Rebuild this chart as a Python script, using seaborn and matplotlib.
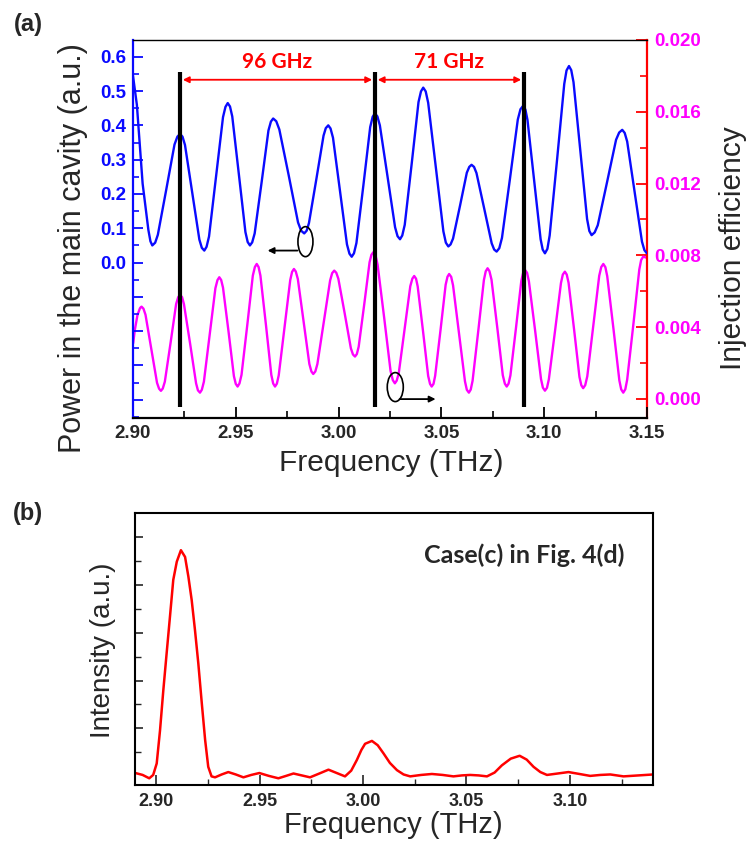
import matplotlib
matplotlib.use("Agg")
import matplotlib.pyplot as plt
from matplotlib.patches import Ellipse
from matplotlib.ticker import FixedLocator, FixedFormatter, MultipleLocator, FormatStrFormatter
import seaborn as sns

# ---------------- data ----------------
blue_freq = [
    2.9000, 2.9019, 2.9047, 2.9075, 2.9085,
    2.9094, 2.9108, 2.9121, 2.9162, 2.9202, 2.9216,
    2.9229, 2.9241, 2.9253, 2.9288, 2.9323, 2.9335,
    2.9347, 2.9358, 2.9370, 2.9404, 2.9438, 2.9450,
    2.9461, 2.9472, 2.9483, 2.9515, 2.9547, 2.9558,
    2.9569, 2.9580, 2.9592, 2.9626, 2.9659, 2.9671,
    2.9682, 2.9697, 2.9712, 2.9758, 2.9803, 2.9818,
    2.9833, 2.9845, 2.9856, 2.9892, 2.9927, 2.9938,
    2.9950, 2.9961, 2.9973, 3.0007, 3.0041, 3.0053,
    3.0064, 3.0075, 3.0087, 3.0121, 3.0154, 3.0166,
    3.0177, 3.0189, 3.0201, 3.0238, 3.0275, 3.0287,
    3.0299, 3.0310, 3.0322, 3.0356, 3.0389, 3.0401,
    3.0412, 3.0424, 3.0436, 3.0473, 3.0510, 3.0522,
    3.0534, 3.0545, 3.0557, 3.0591, 3.0624, 3.0636,
    3.0647, 3.0659, 3.0671, 3.0708, 3.0745, 3.0757,
    3.0769, 3.0782, 3.0795, 3.0834, 3.0872, 3.0885,
    3.0898, 3.0909, 3.0919, 3.0951, 3.0983, 3.0993,
    3.1004, 3.1016, 3.1027, 3.1063, 3.1098, 3.1109,
    3.1121, 3.1132, 3.1143, 3.1176, 3.1209, 3.1220,
    3.1231, 3.1246, 3.1261, 3.1306, 3.1350, 3.1365,
    3.1380, 3.1392, 3.1404, 3.1440, 3.1476, 3.1488,
    3.1500]
blue_power = [
    0.545, 0.460, 0.230, 0.095, 0.062,
    0.050, 0.058, 0.081, 0.213, 0.344, 0.367,
    0.375, 0.367, 0.343, 0.205, 0.067, 0.043,
    0.035, 0.046, 0.076, 0.250, 0.424, 0.454,
    0.465, 0.455, 0.426, 0.258, 0.089, 0.060,
    0.050, 0.059, 0.085, 0.235, 0.385, 0.411,
    0.420, 0.412, 0.388, 0.253, 0.117, 0.093,
    0.085, 0.093, 0.115, 0.243, 0.370, 0.392,
    0.400, 0.391, 0.364, 0.209, 0.053, 0.026,
    0.017, 0.027, 0.057, 0.226, 0.395, 0.425,
    0.435, 0.426, 0.400, 0.252, 0.103, 0.077,
    0.068, 0.079, 0.110, 0.289, 0.468, 0.499,
    0.510, 0.499, 0.466, 0.279, 0.091, 0.058,
    0.047, 0.053, 0.070, 0.166, 0.262, 0.279,
    0.285, 0.279, 0.261, 0.159, 0.056, 0.038,
    0.032, 0.042, 0.072, 0.245, 0.417, 0.447,
    0.457, 0.446, 0.416, 0.242, 0.068, 0.038,
    0.027, 0.040, 0.079, 0.300, 0.521, 0.560,
    0.573, 0.561, 0.526, 0.327, 0.127, 0.092,
    0.080, 0.088, 0.109, 0.234, 0.358, 0.379,
    0.387, 0.378, 0.353, 0.207, 0.061, 0.036,
    0.027]

pink_freq = [
    2.9001, 2.9009, 2.9022, 2.9034, 2.9038,
    2.9042, 2.9051, 2.9061, 2.9089, 2.9117, 2.9127,
    2.9136, 2.9145, 2.9155, 2.9183, 2.9210, 2.9220,
    2.9229, 2.9239, 2.9248, 2.9278, 2.9307, 2.9316,
    2.9326, 2.9335, 2.9345, 2.9373, 2.9401, 2.9411,
    2.9420, 2.9429, 2.9438, 2.9465, 2.9491, 2.9500,
    2.9509, 2.9518, 2.9528, 2.9556, 2.9583, 2.9593,
    2.9602, 2.9611, 2.9620, 2.9647, 2.9673, 2.9682,
    2.9691, 2.9700, 2.9709, 2.9737, 2.9765, 2.9774,
    2.9783, 2.9792, 2.9802, 2.9830, 2.9858, 2.9868,
    2.9877, 2.9887, 2.9897, 2.9928, 2.9959, 2.9969,
    2.9979, 2.9989, 2.9999, 3.0030, 3.0060, 3.0070,
    3.0080, 3.0089, 3.0098, 3.0125, 3.0151, 3.0160,
    3.0169, 3.0180, 3.0190, 3.0222, 3.0253, 3.0264,
    3.0274, 3.0283, 3.0293, 3.0321, 3.0349, 3.0359,
    3.0368, 3.0377, 3.0385, 3.0411, 3.0436, 3.0445,
    3.0453, 3.0462, 3.0470, 3.0496, 3.0521, 3.0530,
    3.0538, 3.0548, 3.0557, 3.0586, 3.0615, 3.0624,
    3.0634, 3.0643, 3.0652, 3.0680, 3.0707, 3.0716,
    3.0725, 3.0734, 3.0744, 3.0772, 3.0799, 3.0809,
    3.0818, 3.0827, 3.0836, 3.0863, 3.0889, 3.0898,
    3.0907, 3.0917, 3.0926, 3.0956, 3.0985, 3.0994,
    3.1004, 3.1014, 3.1023, 3.1053, 3.1082, 3.1091,
    3.1101, 3.1110, 3.1119, 3.1146, 3.1172, 3.1181,
    3.1190, 3.1200, 3.1210, 3.1239, 3.1268, 3.1278,
    3.1288, 3.1298, 3.1307, 3.1337, 3.1366, 3.1375,
    3.1385, 3.1395, 3.1404, 3.1434, 3.1463, 3.1472,
    3.1482, 3.1500]
pink_eff = [
    0.00310, 0.00384, 0.00468, 0.00505, 0.00511,
    0.00514, 0.00503, 0.00469, 0.00280, 0.00090, 0.00057,
    0.00045, 0.00058, 0.00096, 0.00313, 0.00529, 0.00567,
    0.00580, 0.00567, 0.00528, 0.00308, 0.00087, 0.00048,
    0.00035, 0.00051, 0.00096, 0.00357, 0.00617, 0.00662,
    0.00678, 0.00663, 0.00620, 0.00374, 0.00127, 0.00084,
    0.00069, 0.00086, 0.00134, 0.00411, 0.00687, 0.00735,
    0.00752, 0.00735, 0.00687, 0.00411, 0.00134, 0.00086,
    0.00069, 0.00085, 0.00131, 0.00397, 0.00662, 0.00708,
    0.00724, 0.00710, 0.00668, 0.00432, 0.00195, 0.00153,
    0.00139, 0.00153, 0.00194, 0.00427, 0.00660, 0.00701,
    0.00715, 0.00703, 0.00670, 0.00476, 0.00282, 0.00248,
    0.00236, 0.00250, 0.00291, 0.00527, 0.00762, 0.00803,
    0.00817, 0.00799, 0.00748, 0.00452, 0.00156, 0.00105,
    0.00087, 0.00102, 0.00144, 0.00386, 0.00628, 0.00670,
    0.00685, 0.00670, 0.00627, 0.00377, 0.00128, 0.00084,
    0.00069, 0.00084, 0.00129, 0.00383, 0.00636, 0.00681,
    0.00696, 0.00680, 0.00633, 0.00366, 0.00098, 0.00051,
    0.00035, 0.00052, 0.00101, 0.00382, 0.00662, 0.00711,
    0.00728, 0.00712, 0.00665, 0.00399, 0.00132, 0.00085,
    0.00069, 0.00085, 0.00131, 0.00394, 0.00657, 0.00703,
    0.00719, 0.00703, 0.00655, 0.00383, 0.00110, 0.00063,
    0.00046, 0.00062, 0.00109, 0.00378, 0.00646, 0.00693,
    0.00709, 0.00693, 0.00647, 0.00385, 0.00122, 0.00076,
    0.00060, 0.00077, 0.00126, 0.00406, 0.00686, 0.00735,
    0.00752, 0.00734, 0.00684, 0.00394, 0.00103, 0.00053,
    0.00035, 0.00054, 0.00107, 0.00414, 0.00721, 0.00774,
    0.00793, 0.00786]

spec_freq = [2.8900, 2.8935, 2.8967, 2.8986, 2.9003, 2.9019, 2.9035, 2.9051, 2.9067,
             2.9083, 2.9100, 2.9120, 2.9140, 2.9156, 2.9172, 2.9188, 2.9204, 2.9221,
             2.9237, 2.9252, 2.9268, 2.9285, 2.9317, 2.9349, 2.9385, 2.9422, 2.9460,
             2.9499, 2.9545, 2.9591, 2.9628, 2.9664, 2.9704, 2.9744, 2.9789, 2.9833,
             2.9873, 2.9913, 2.9943, 2.9970, 2.9992, 3.0010, 3.0043, 3.0071, 3.0099,
             3.0130, 3.0164, 3.0196, 3.0228, 3.0281, 3.0333, 3.0385, 3.0437, 3.0478,
             3.0518, 3.0559, 3.0599, 3.0636, 3.0671, 3.0714, 3.0757, 3.0791, 3.0824,
             3.0857, 3.0889, 3.0941, 3.0993, 3.1046, 3.1098, 3.1147, 3.1195, 3.1227,
             3.1259, 3.1331, 3.1403]
spec_int = [0.07, 0.03, -0.04, 0.03, 0.27, 0.96, 1.80, 2.57, 3.33,
            4.10, 4.48, 4.72, 4.58, 4.17, 3.68, 3.05, 2.36, 1.52,
            0.76, 0.20, 0.00, -0.02, 0.04, 0.09, 0.04, -0.02, 0.03,
            0.07, 0.01, -0.04, 0.01, 0.06, 0.02, -0.02, 0.06, 0.14,
            0.07, 0.00, 0.12, 0.34, 0.55, 0.68, 0.74, 0.65, 0.48,
            0.28, 0.13, 0.04, 0.00, 0.03, 0.05, 0.03, 0.00, 0.02,
            0.03, 0.02, 0.00, 0.08, 0.23, 0.37, 0.43, 0.35, 0.20,
            0.09, 0.03, 0.06, 0.09, 0.05, 0.01, 0.03, 0.04, 0.02,
            0.00, 0.02, 0.04]

marker_freqs = [2.9229, 3.0177, 3.0902]
span_labels = ["96 GHz", "71 GHz"]

left_ticks = [-0.4, -0.3, -0.2, -0.1, 0.0, 0.1, 0.2, 0.3, 0.4, 0.5, 0.6]
left_labels = ["", "", "", "", "0.0", "0.1", "0.2", "0.3", "0.4", "0.5", "0.6"]
right_ticks = [0.000, 0.004, 0.008, 0.012, 0.016, 0.020]
right_labels = ["0.000", "0.004", "0.008", "0.012", "0.016", "0.020"]
top_xticks = [2.90, 2.95, 3.00, 3.05, 3.10, 3.15]
bot_xticks = [2.90, 2.95, 3.00, 3.05, 3.10]

# ---------------- style ----------------
sns.set_style("ticks")
plt.rcParams["font.family"] = ["Liberation Sans", "DejaVu Sans"]
plt.rcParams["xtick.direction"] = "in"
plt.rcParams["ytick.direction"] = "in"

BLUE = "#0a0aff"
MAG = "#ff00ff"
RED = "#ff0000"

fig = plt.figure(figsize=(7.47, 8.43), dpi=100)

# ---------------- panel (a) ----------------
ax1 = fig.add_axes([0.178, 0.5042, 0.688, 0.4484])
ax2 = ax1.twinx()
ax1.set_zorder(ax2.get_zorder() + 1)
ax1.patch.set_visible(False)

sns.lineplot(x=pink_freq, y=pink_eff, ax=ax2, color=MAG, linewidth=1.7,
             estimator=None, sort=False)
sns.lineplot(x=blue_freq, y=blue_power, ax=ax1, color=BLUE, linewidth=1.7,
             estimator=None, sort=False)
for ln in ax1.lines + ax2.lines:
    ln.set_solid_joinstyle("round")

ax1.set_xlim(2.90, 3.15)
ax1.set_ylim(-0.453, 0.649)
ax2.set_ylim(-0.00106, 0.020)

# marker lines
ax1.vlines(marker_freqs, -0.42, 0.557, colors="black", linewidth=3.0, zorder=5)
# span arrows and labels
arrow_y = 0.533
for i, lab in enumerate(span_labels):
    x0, x1 = marker_freqs[i], marker_freqs[i + 1]
    ax1.annotate("", xy=(x1, arrow_y), xytext=(x0, arrow_y),
                 arrowprops=dict(arrowstyle="<|-|>", color=RED, lw=1.3,
                                 mutation_scale=9, shrinkA=2, shrinkB=2), zorder=6)
    ax1.text((x0 + x1) / 2, 0.586, lab, color=RED, fontsize=15,
             fontweight="bold", ha="center", va="center", family=["Lato", "DejaVu Sans"])

# ellipses with arrows indicating axes
ax1.add_patch(Ellipse((2.9839, 0.061), 0.0073, 0.0875, fill=False,
                      edgecolor="black", lw=1.2, zorder=6))
ax1.annotate("", xy=(2.9655, 0.035), xytext=(2.9800, 0.035),
             arrowprops=dict(arrowstyle="-|>", color="black", lw=1.3,
                             mutation_scale=9, shrinkA=0, shrinkB=0), zorder=6)
ax1.add_patch(Ellipse((3.0276, -0.363), 0.0078, 0.0845, fill=False,
                      edgecolor="black", lw=1.2, zorder=6))
ax1.annotate("", xy=(3.0472, -0.398), xytext=(3.0297, -0.398),
             arrowprops=dict(arrowstyle="-|>", color="black", lw=1.3,
                             mutation_scale=9, shrinkA=0, shrinkB=0), zorder=6)

# spines
for sp in ["top", "bottom", "left", "right"]:
    ax2.spines[sp].set_visible(sp == "right")
ax1.spines["right"].set_visible(False)
ax1.spines["left"].set_color(BLUE)
ax1.spines["left"].set_linewidth(1.6)
ax1.spines["bottom"].set_linewidth(1.6)
ax1.spines["bottom"].set_color("black")
ax1.spines["top"].set_linewidth(1.0)
ax1.spines["top"].set_color("black")
ax2.spines["right"].set_color(RED)
ax2.spines["right"].set_linewidth(1.6)

# ticks
ax1.xaxis.set_major_locator(FixedLocator(top_xticks))
ax1.xaxis.set_major_formatter(FormatStrFormatter("%.2f"))
ax1.xaxis.set_minor_locator(MultipleLocator(0.025))
ax1.yaxis.set_major_locator(FixedLocator(left_ticks))
ax1.yaxis.set_major_formatter(FixedFormatter(left_labels))
ax1.yaxis.set_minor_locator(MultipleLocator(0.05))
ax2.yaxis.set_major_locator(FixedLocator(right_ticks))
ax2.yaxis.set_major_formatter(FixedFormatter(right_labels))
ax2.yaxis.set_minor_locator(MultipleLocator(0.002))

ax1.tick_params(axis="x", which="major", direction="in", length=8, width=1.3,
                color="black", labelsize=13.5, pad=5, top=False)
ax1.tick_params(axis="x", which="minor", direction="in", length=5, width=1.2,
                color="black", top=False)
ax1.tick_params(axis="y", which="major", direction="in", length=7, width=1.3,
                color=BLUE, labelcolor=BLUE, labelsize=13.5, pad=5)
ax1.tick_params(axis="y", which="minor", direction="in", length=4, width=1.2, color=BLUE)
ax2.tick_params(axis="y", which="major", direction="in", length=8, width=1.3,
                color=RED, labelcolor=MAG, labelsize=13.5, pad=5)
ax2.tick_params(axis="y", which="minor", direction="in", length=5, width=1.2, color=RED)

for lab in ax1.get_xticklabels() + ax1.get_yticklabels() + ax2.get_yticklabels():
    lab.set_fontweight("bold")
ax1.set_xlabel("")
ax1.set_ylabel("")
ax2.set_ylabel("")

fig.text(0.5244, 0.4508, "Frequency (THz)", fontsize=21.5, ha="center", va="center")
fig.text(0.0977, 0.7058, "Power in the main cavity (a.u.)", fontsize=22,
         rotation=90, ha="center", va="center")
fig.text(0.9813, 0.7058, "Injection efficiency", fontsize=21.5,
         rotation=90, ha="center", va="center")
fig.text(0.0375, 0.9715, "(a)", fontsize=17, fontweight="bold", ha="center", va="center")

# ---------------- panel (b) ----------------
ax3 = fig.add_axes([0.1807, 0.0688, 0.6939, 0.3223])
sns.lineplot(x=spec_freq, y=spec_int, ax=ax3, color=RED, linewidth=1.8,
             estimator=None, sort=False)
for ln in ax3.lines:
    ln.set_solid_joinstyle("round")
ax3.set_xlim(2.8898, 3.1403)
ax3.set_ylim(-0.18, 5.49)
for sp in ax3.spines.values():
    sp.set_visible(True)
    sp.set_color("black")
    sp.set_linewidth(1.5)
ax3.xaxis.set_major_locator(FixedLocator(bot_xticks))
ax3.xaxis.set_major_formatter(FormatStrFormatter("%.2f"))
ax3.xaxis.set_minor_locator(MultipleLocator(0.025))
ax3.yaxis.set_major_locator(FixedLocator([1, 2, 3, 4, 5]))
ax3.yaxis.set_minor_locator(FixedLocator([0.5, 1.5, 2.5, 3.5, 4.5]))
ax3.yaxis.set_major_formatter(FixedFormatter(["", "", "", "", ""]))
ax3.tick_params(axis="x", which="major", direction="in", length=7, width=1.2,
                labelsize=13, pad=6, top=False)
ax3.tick_params(axis="x", which="minor", direction="in", length=4, width=1.0, top=False)
ax3.tick_params(axis="y", which="major", direction="in", length=6, width=1.2, right=False)
ax3.tick_params(axis="y", which="minor", direction="in", length=4, width=1.0, right=False)
for lab in ax3.get_xticklabels():
    lab.set_fontweight("bold")
ax3.set_xlabel("")
ax3.set_ylabel("")

ax3.text(0.7015, 0.3416, "Case(c) in Fig. 4(d)", transform=fig.transFigure,
         fontsize=18, fontweight="bold", ha="center", va="center",
         family=["Lato", "DejaVu Sans"])
fig.text(0.5265, 0.0208, "Frequency (THz)", fontsize=21, ha="center", va="center")
fig.text(0.1380, 0.2290, "Intensity (a.u.)", fontsize=20, rotation=90,
         ha="center", va="center")
fig.text(0.0375, 0.3903, "(b)", fontsize=17, fontweight="bold", ha="center", va="center")

fig.savefig("out.png", dpi=100)
